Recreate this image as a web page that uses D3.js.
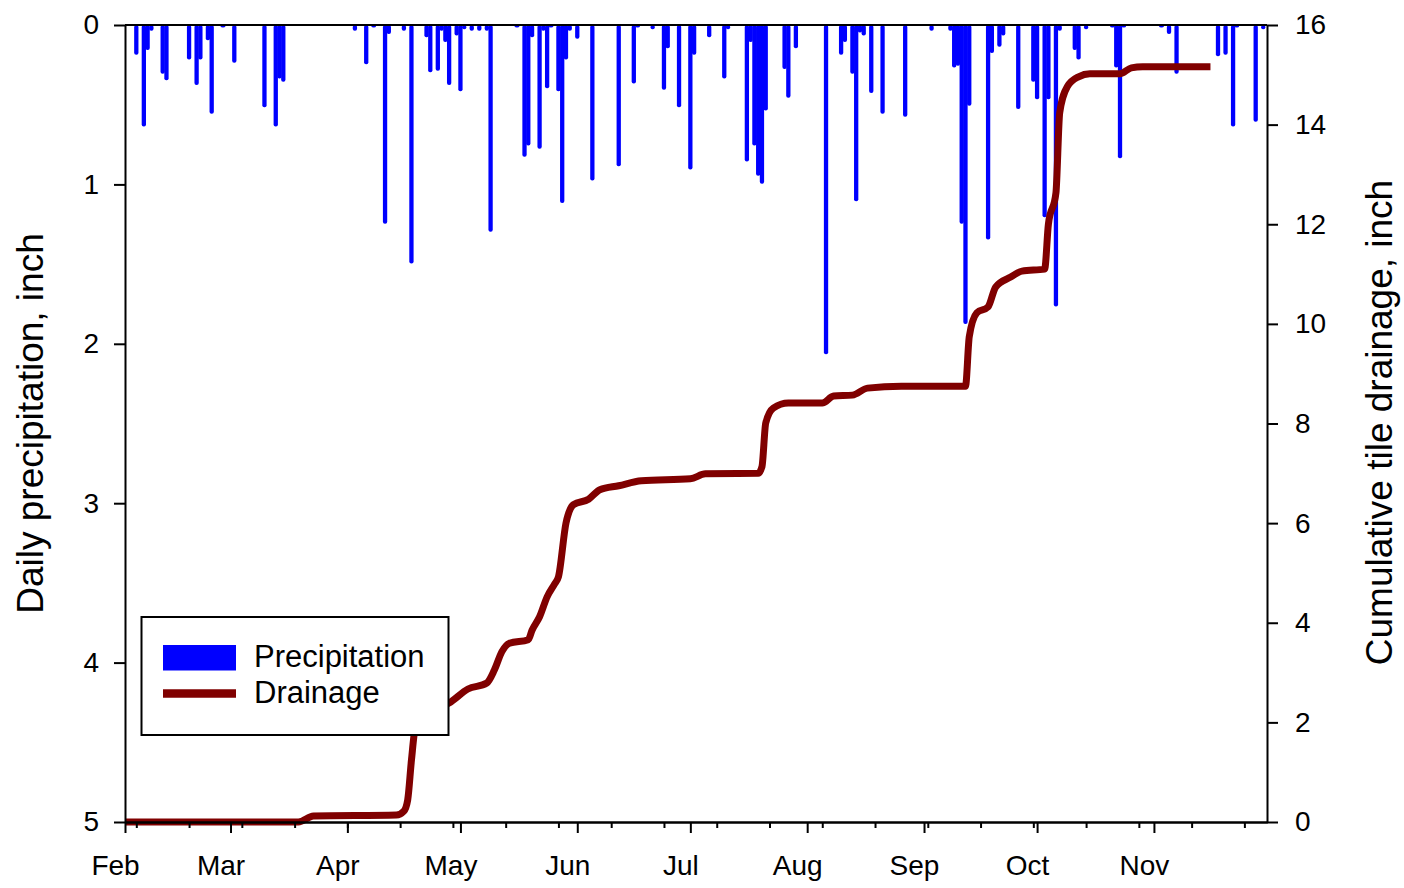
<!DOCTYPE html>
<html>
<head>
<meta charset="utf-8">
<script src="https://cdn.jsdelivr.net/npm/d3@7"></script>
<style>
  html, body { margin: 0; padding: 0; background: #fff; }
  svg { display: block; font-family: "Liberation Sans", Arial, sans-serif; }
</style>
</head>
<body>
<svg id="chart" width="1404" height="888"></svg>
<script>
// ---- data (day offsets counted from Feb 1) ----
const monthLabels = ["Feb", "Mar", "Apr", "May", "Jun", "Jul", "Aug", "Sep", "Oct", "Nov"];
const leftTicks = [0, 1, 2, 3, 4, 5];
const rightTicks = [0, 2, 4, 6, 8, 10, 12, 14, 16];

const precipDay = [3, 5, 6, 7, 10, 11, 17, 19, 20, 22, 23, 26, 29, 37, 40, 41, 42,
  61, 64, 66, 69, 70, 74, 76, 80, 81, 83, 84, 85, 86, 88, 89, 90, 92, 94, 96, 97,
  104, 106, 107, 108, 110, 111, 112, 113, 115, 116, 117, 118, 120, 124, 131, 135, 136,
  140, 143, 144, 147, 150, 151, 155, 159, 160, 165, 166, 167, 168, 169, 170, 175, 176,
  178, 186, 190, 191, 193, 194, 195, 196, 198, 201, 207, 214, 219, 220, 221, 222, 223,
  224, 229, 230, 232, 233, 237, 241, 242, 244, 245, 247, 248, 252, 253, 255, 262, 263,
  264, 265, 275, 277, 279, 290, 292, 294, 295, 300, 302];
const precipValue = [0.18, 0.63, 0.15, 0.03, 0.30, 0.34, 0.21, 0.37, 0.21, 0.09, 0.55, 0.01, 0.23, 0.51, 0.63, 0.33, 0.35,
  0.03, 0.24, 0.01, 1.24, 0.05, 0.03, 1.49, 0.07, 0.29, 0.28, 0.03, 0.10, 0.37, 0.06, 0.41, 0.02, 0.03, 0.03, 0.03, 1.29,
  0.01, 0.82, 0.75, 0.07, 0.77, 0.03, 0.39, 0.01, 0.41, 1.11, 0.21, 0.03, 0.08, 0.97, 0.88, 0.36, 0.01,
  0.02, 0.40, 0.14, 0.51, 0.90, 0.18, 0.07, 0.33, 0.02, 0.85, 0.10, 0.75, 0.94, 0.99, 0.53, 0.27, 0.45,
  0.14, 2.06, 0.18, 0.10, 0.30, 1.10, 0.04, 0.06, 0.42, 0.55, 0.57, 0.03, 0.03, 0.26, 0.25, 1.24, 1.87,
  0.50, 1.34, 0.17, 0.13, 0.06, 0.52, 0.35, 0.46, 1.20, 0.46, 1.76, 0.03, 0.15, 0.21, 0.02, 0.01, 0.26,
  0.83, 0.01, 0.01, 0.05, 0.30, 0.19, 0.18, 0.63, 0.01, 0.60, 0.02];

const drainDay = [0, 46, 50, 72, 74, 75, 76, 77, 79, 86, 91, 96, 98, 100, 102, 107, 108, 110, 112, 114, 115,
  117, 119, 123, 126, 131, 137, 150, 154, 168, 169, 170, 172, 176, 185, 188, 193, 197, 206, 223,
  224, 226, 229, 231, 235, 238, 244, 245, 247, 248, 250, 253, 256, 264, 267, 270, 288];
const drainValue = [0, 0, 0.12, 0.14, 0.22, 0.44, 1.24, 1.9, 2.2, 2.39, 2.67, 2.79, 3.05, 3.42, 3.59, 3.66, 3.85, 4.12, 4.52, 4.78, 4.92,
  6.0, 6.37, 6.48, 6.67, 6.75, 6.85, 6.89, 6.99, 7.0, 7.13, 8.01, 8.31, 8.41, 8.41, 8.55, 8.57, 8.71, 8.75, 8.75,
  9.74, 10.22, 10.34, 10.74, 10.94, 11.06, 11.1, 12.0, 12.63, 14.24, 14.76, 14.96, 15.02, 15.02, 15.14, 15.16, 15.16];

const minorTickDay = [3, 17, 31, 45, 59, 73, 87, 101, 115, 129, 143, 157, 171, 185, 199, 213, 227, 241, 255, 269, 283, 297];

// ---- helpers ----
const dayDate = d => new Date(Date.UTC(2015, 1, 1) + d * 86400000);
const monthDates = monthLabels.map((m, i) => new Date(Date.UTC(2015, 1 + i, 1)));

const L = 125, R = 1267, T = 25, B = 822;
const svg = d3.select("#chart");

const x = d3.scaleUtc().domain([new Date(Date.UTC(2015, 1, 1)), new Date(Date.UTC(2015, 11, 1))]).range([L, R]);
const yP = d3.scaleLinear().domain([0, 5]).range([T, B]);
const yD = d3.scaleLinear().domain([0, 16]).range([B, T]);

// ---- precipitation bars ----
const barW = 4.3;
svg.append("g").selectAll("rect")
  .data(precipDay.map((d, i) => ({ d, v: precipValue[i] })))
  .join("rect")
  .attr("x", p => x(dayDate(p.d)) - barW / 2)
  .attr("y", yP(0))
  .attr("width", barW)
  .attr("height", p => Math.max(2, yP(p.v) - yP(0) + 1))
  .attr("rx", 2)
  .attr("fill", "#0000ff");

// ---- drainage line ----
const line = d3.line()
  .x(p => x(dayDate(p.d)))
  .y(p => yD(p.v))
  .curve(d3.curveMonotoneX);
svg.append("path")
  .datum(drainDay.map((d, i) => ({ d, v: drainValue[i] })))
  .attr("d", line)
  .attr("fill", "none")
  .attr("stroke", "#800000")
  .attr("stroke-width", 7)
  .attr("stroke-linejoin", "round");

// ---- frame ----
svg.append("line").attr("x1", L).attr("x2", R).attr("y1", T).attr("y2", T)
  .attr("stroke", "#000").attr("stroke-width", 2);

// ---- axes ----
const fontSize = 28;
const styleAxis = g => {
  g.select(".domain").attr("stroke", "#000").attr("stroke-width", 2);
  g.selectAll(".tick line").attr("stroke", "#000").attr("stroke-width", 2);
  g.selectAll("text").attr("fill", "#000").style("font-size", fontSize + "px")
    .style("font-family", '"Liberation Sans", Arial, sans-serif');
};

// bottom minor ticks
svg.append("g").attr("transform", `translate(0,${B})`)
  .call(d3.axisBottom(x).tickValues(minorTickDay.map(dayDate)).tickSize(6).tickSizeOuter(0).tickFormat(""))
  .call(styleAxis);
// bottom major ticks
const gx = svg.append("g").attr("transform", `translate(0,${B})`)
  .call(d3.axisBottom(x).tickValues(monthDates).tickSize(11).tickSizeOuter(0).tickFormat((d, i) => monthLabels[i]))
  .call(styleAxis);
gx.selectAll(".tick text").attr("y", 53).attr("dy", 0).attr("dx", -10);

svg.append("g").attr("transform", `translate(${L},0)`)
  .call(d3.axisLeft(yP).tickValues(leftTicks).tickSize(11).tickSizeOuter(0).tickPadding(15).tickFormat(d3.format("d")))
  .call(styleAxis);

svg.append("g").attr("transform", `translate(${R},0)`)
  .call(d3.axisRight(yD).tickValues(rightTicks).tickSize(11).tickSizeOuter(0).tickPadding(17).tickFormat(d3.format("d")))
  .call(styleAxis);

// ---- axis titles ----
svg.append("text")
  .attr("transform", `translate(43,${(T + B) / 2}) rotate(-90)`)
  .attr("text-anchor", "middle")
  .style("font-size", "37px")
  .text("Daily precipitation, inch");

svg.append("text")
  .attr("transform", `translate(1392,${(T + B) / 2 - 1}) rotate(-90)`)
  .attr("text-anchor", "middle")
  .style("font-size", "37px")
  .text("Cumulative tile drainage, inch");

// ---- legend ----
const lg = svg.append("g");
lg.append("rect").attr("x", 141.5).attr("y", 617).attr("width", 307).attr("height", 118)
  .attr("fill", "#fff").attr("stroke", "#000").attr("stroke-width", 2);
lg.append("rect").attr("x", 163).attr("y", 645).attr("width", 73).attr("height", 25.5)
  .attr("fill", "#0000ff");
lg.append("line").attr("x1", 163).attr("x2", 236).attr("y1", 693.5).attr("y2", 693.5)
  .attr("stroke", "#800000").attr("stroke-width", 8.5);
lg.append("text").attr("x", 254).attr("y", 667).style("font-size", "31px").text("Precipitation");
lg.append("text").attr("x", 254).attr("y", 703).style("font-size", "31px").text("Drainage");
</script>
</body>
</html>
